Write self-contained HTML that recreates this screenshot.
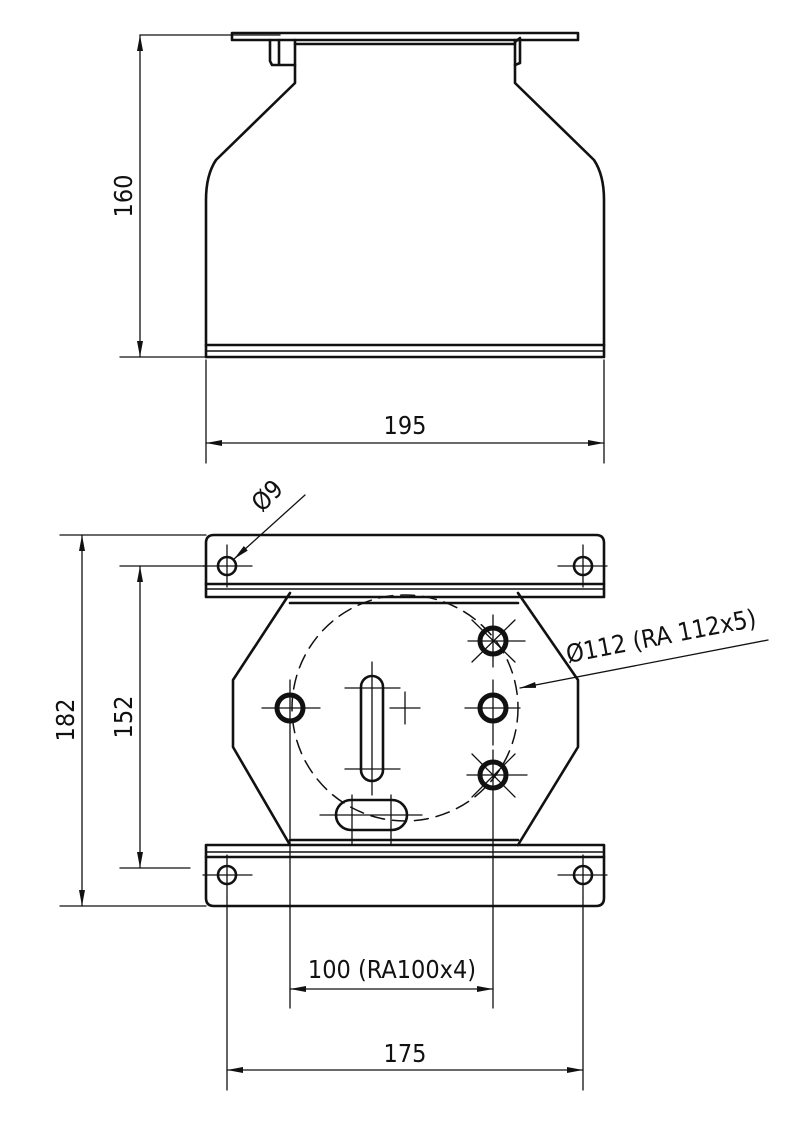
<!DOCTYPE html>
<html><head><style>
html,body{margin:0;padding:0;background:#fff;}
svg{display:block;}
text{font-family:"DejaVu Sans Condensed","Liberation Sans",sans-serif;font-size:25px;fill:#111;}
</style></head><body>
<svg width="800" height="1133" viewBox="0 0 800 1133" xmlns="http://www.w3.org/2000/svg">
<defs>
<marker id="a" viewBox="0 0 16 6" refX="16" refY="3" markerWidth="16" markerHeight="6" orient="auto-start-reverse" markerUnits="userSpaceOnUse"><path d="M0,0 L16,3 L0,6 Z" fill="#111"/></marker>
</defs>
<g fill="none" stroke="#111" stroke-linecap="round" stroke-linejoin="round">
<!-- TOP VIEW -->
<g stroke-width="2.6">
<rect x="232" y="33" width="346" height="7"/>
<path d="M295,40 V83 L216,160 Q206,175 206,200 V345 M515,40 V83 L594,160 Q604,175 604,200 V345"/>
<line x1="295" y1="44" x2="515" y2="44"/>
<path d="M270,40 V61 L272,65 H295 M279,40 V65"/>
<path d="M515,42 L520,38 M520,40 V63 L515,65"/>
<rect x="206" y="345" width="398" height="12"/>
<line x1="206" y1="351" x2="604" y2="351" stroke-width="1.6"/>
</g>
<!-- dims top -->
<g stroke-width="1.3">
<line x1="140" y1="35" x2="280" y2="35"/>
<line x1="120" y1="357" x2="206" y2="357"/>
<line x1="140" y1="35" x2="140" y2="357" marker-start="url(#a)" marker-end="url(#a)"/>
<line x1="206" y1="360" x2="206" y2="463"/>
<line x1="604" y1="360" x2="604" y2="463"/>
<line x1="206" y1="443" x2="604" y2="443" marker-start="url(#a)" marker-end="url(#a)"/>
</g>
<!-- BOTTOM VIEW plates -->
<g stroke-width="2.6">
<path d="M214,535 H596 Q604,535 604,543 V597 H206 V543 Q206,535 214,535 Z"/>
<line x1="206" y1="584" x2="604" y2="584"/>
<line x1="206" y1="589" x2="604" y2="589" stroke-width="1.5"/>
<path d="M206,845 H604 V898 Q604,906 596,906 H214 Q206,906 206,898 Z"/>
<line x1="206" y1="857" x2="604" y2="857"/>
<line x1="206" y1="852" x2="604" y2="852" stroke-width="1.5"/>
<path d="M290,593 L233,680 V747 L290,845 M518,593 L578,680 V747 L518,845"/>
<line x1="290" y1="603" x2="518" y2="603"/>
<line x1="290" y1="840" x2="518" y2="840"/>
<circle cx="227" cy="566" r="9"/><circle cx="583" cy="566" r="9"/>
<circle cx="227" cy="875" r="9"/><circle cx="583" cy="875" r="9"/>
<rect x="361" y="676" width="22" height="105" rx="11"/>
<rect x="336" y="800" width="71" height="30" rx="15"/>
</g>
<g stroke-width="5">
<circle cx="290" cy="708" r="13"/><circle cx="493" cy="708" r="13"/>
<circle cx="493" cy="641" r="13"/><circle cx="493" cy="775" r="13"/>
</g>
<circle cx="405" cy="708" r="113" stroke-width="1.5" stroke-dasharray="14,8"/>
<g stroke-width="1.3">
<path d="M203,566 H252 M227,545 V587 M558,566 H607 M583,545 V587"/>
<path d="M203,875 H252 M227,855 V898 M558,875 H607 M583,855 V898"/>
<path d="M262,708 H320 M290,680 V908 M465,708 H520 M493,680 V745"/>
<path d="M468,641 H525 M493,615 V667 M472,620 L515,662 M472,662 L515,620"/>
<path d="M467,775 H527 M493,750 V908 M472,754 L515,797 M472,797 L515,754"/>
<path d="M372,662 V795 M345,688 H400 M345,769 H400 M390,708 H420 M405,692 V724"/>
<path d="M320,815 H422 M352,795 V845 M391,795 V845"/>
<!-- dims -->
<line x1="60" y1="535" x2="206" y2="535"/>
<line x1="60" y1="906" x2="206" y2="906"/>
<line x1="82" y1="535" x2="82" y2="906" marker-start="url(#a)" marker-end="url(#a)"/>
<line x1="120" y1="566" x2="206" y2="566"/>
<line x1="120" y1="868" x2="190" y2="868"/>
<line x1="140" y1="566" x2="140" y2="868" marker-start="url(#a)" marker-end="url(#a)"/>
<line x1="227" y1="898" x2="227" y2="1090"/>
<line x1="583" y1="898" x2="583" y2="1090"/>
<line x1="290" y1="908" x2="290" y2="1008"/>
<line x1="493" y1="908" x2="493" y2="1008"/>
<line x1="290" y1="989" x2="493" y2="989" marker-start="url(#a)" marker-end="url(#a)"/>
<line x1="227" y1="1070" x2="583" y2="1070" marker-start="url(#a)" marker-end="url(#a)"/>
<line x1="305" y1="495" x2="234" y2="559" marker-end="url(#a)"/>
<line x1="768" y1="640" x2="520" y2="688" marker-end="url(#a)"/>
</g>
</g>
<text transform="translate(132,196) rotate(-90)" text-anchor="middle">160</text>
<text x="405" y="434" text-anchor="middle">195</text>
<text transform="translate(74,720) rotate(-90)" text-anchor="middle">182</text>
<text transform="translate(132,717) rotate(-90)" text-anchor="middle">152</text>
<text x="392" y="978" text-anchor="middle">100  (RA100x4)</text>
<text x="405" y="1062" text-anchor="middle">175</text>
<text transform="translate(262,513) rotate(-45)">Ø9</text>
<text transform="translate(568,663) rotate(-11)">Ø112 (RA 112x5)</text>
</svg>
</body></html>
